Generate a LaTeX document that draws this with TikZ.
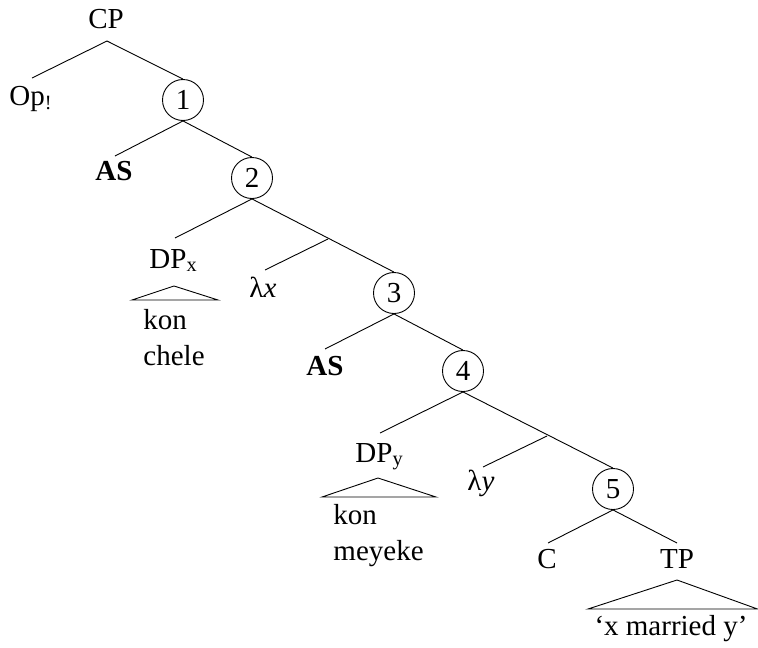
\documentclass[tikz,border=0pt]{standalone}
\usepackage{fontspec}
\setmainfont{Liberation Serif}
\begin{document}
\begin{tikzpicture}[x=1pt,y=-1pt,line width=0.9pt,
  lbl/.style={inner sep=0pt,font=\fontsize{29}{33}\selectfont},
  num/.style={circle,draw,minimum size=41pt,inner sep=0pt,font=\fontsize{29}{33}\selectfont}]
\useasboundingbox (0,0) rectangle (758,648);
% nodes
\node[lbl,anchor=base] (cp) at (106,28) {CP};
\node[lbl,anchor=base west] (op) at (9,105) {Op\textsubscript{!}};
\node[num] (n1) at (183,100) {1};
\node[lbl,anchor=base] (as1) at (114,180) {\bfseries AS};
\node[num] (n2) at (252,178) {2};
\node[lbl,anchor=base west] (dpx) at (149,268) {DP\textsubscript{x}};
\node[lbl,anchor=base west] (lx) at (249,297) {λ\itshape x};
\node[lbl,anchor=base west] (kon1) at (143,329) {kon};
\node[lbl,anchor=base west] (chele) at (143,365) {chele};
\node[num] (n3) at (394,293) {3};
\node[lbl,anchor=base] (as2) at (325,375) {\bfseries AS};
\node[num] (n4) at (463,371) {4};
\node[lbl,anchor=base west] (dpy) at (355,462) {DP\textsubscript{y}};
\node[lbl,anchor=base west] (ly) at (467,490) {λ\itshape y};
\node[lbl,anchor=base west] (kon2) at (333,524) {kon};
\node[lbl,anchor=base west] (meyeke) at (333,560) {meyeke};
\node[num] (n5) at (613,489) {5};
\node[lbl,anchor=base] (c) at (547,568) {C};
\node[lbl,anchor=base] (tp) at (677,568) {TP};
\node[lbl,anchor=base] (xmy) at (671,635) {‘x married y’};
% connector end points
\coordinate (cpb) at (107,41);
\coordinate (opt) at (32,78);
\coordinate (as1t) at (115,156);
\coordinate (dpxt) at (175,238);
\coordinate (b1) at (328,239);
\coordinate (lxt) at (265,270);
\coordinate (as2t) at (325,349);
\coordinate (dpyt) at (380,433);
\coordinate (b2) at (547,436);
\coordinate (lyt) at (483,467);
\coordinate (ct) at (548,543);
\coordinate (tpt) at (677,543);
% triangles
\coordinate (t1a) at (174,286);
\coordinate (t1l) at (132,300);
\coordinate (t1r) at (218,300);
\coordinate (t2a) at (378,478);
\coordinate (t2l) at (322,497);
\coordinate (t2r) at (436,497);
\coordinate (t3a) at (677,580);
\coordinate (t3l) at (588,609);
\coordinate (t3r) at (757.5,609);
% edges
\draw (cpb) -- (opt);
\draw (cpb) -- (n1.north);
\draw (n1.south) -- (as1t);
\draw (n1.south) -- (n2.north);
\draw (n2.south) -- (dpxt);
\draw (n2.south) -- (n3.north);
\draw (b1) -- (lxt);
\draw (n3.south) -- (as2t);
\draw (n3.south) -- (n4.north);
\draw (n4.south) -- (dpyt);
\draw (n4.south) -- (n5.north);
\draw (b2) -- (lyt);
\draw (n5.south) -- (ct);
\draw (n5.south) -- (tpt);
\draw (t1a) -- (t1l) -- (t1r) -- cycle;
\draw (t2a) -- (t2l) -- (t2r) -- cycle;
\draw (t3a) -- (t3l) -- (t3r) -- cycle;
\end{tikzpicture}
\end{document}
